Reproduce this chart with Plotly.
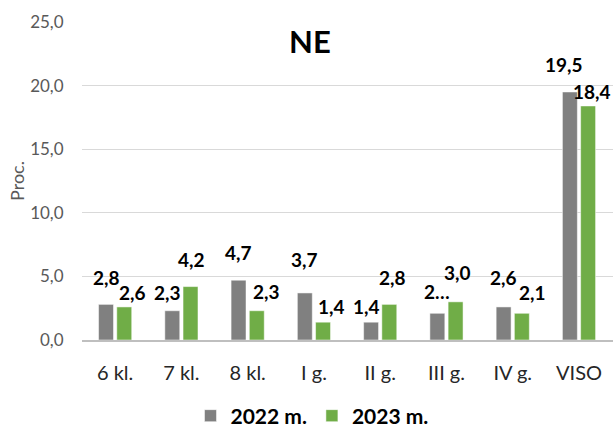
import plotly.graph_objects as go

# duomenys
categories = ["6 kl.", "7 kl.", "8 kl.", "I g.", "II g.", "III g.", "IV g.", "VISO"]
values_2022 = [2.8, 2.3, 4.7, 3.7, 1.4, 2.1, 2.6, 19.5]
values_2023 = [2.6, 4.2, 2.3, 1.4, 2.8, 3.0, 2.1, 18.4]
# Excel sutrumpino vieną etiketę
labels_2022 = ["2,8", "2,3", "4,7", "3,7", "1,4", "2…", "2,6", "19,5"]
labels_2023 = ["2,6", "4,2", "2,3", "1,4", "2,8", "3,0", "2,1", "18,4"]
y_ticks = [0, 5, 10, 15, 20, 25]

# etikečių poslinkiai (px), kad nesikirstų kaip Excel'yje
shift_2022 = [(-9, 13), (-14, 5), (-9, 14), (-9, 20), (-14, 2), (-9, 8), (-9, 16), (-15, 14)]
shift_2023 = [(17, 1), (10, 14), (19, 6), (18, 2), (12, 13), (11, 16), (20, 7), (13, 1)]

FONT = "Lato"
GRAY = "#808080"
GREEN = "#70AD47"

fig = go.Figure()
fig.add_trace(go.Bar(x=categories, y=values_2022, name="2022 m.",
                     marker=dict(color=GRAY, line=dict(color="white", width=0.5))))
fig.add_trace(go.Bar(x=categories, y=values_2023, name="2023 m.",
                     marker=dict(color=GREEN, line=dict(color="white", width=0.5))))

annotations = []
for cat, val, txt, (dx, dy) in zip(categories, values_2022, labels_2022, shift_2022):
    annotations.append(dict(x=cat, y=val, text=txt, showarrow=False, xanchor="center",
                            yanchor="bottom", xshift=dx, yshift=dy,
                            font=dict(family=FONT, size=19, color="black", weight="bold")))
for cat, val, txt, (dx, dy) in zip(categories, values_2023, labels_2023, shift_2023):
    annotations.append(dict(x=cat, y=val, text=txt, showarrow=False, xanchor="center",
                            yanchor="bottom", xshift=dx, yshift=dy,
                            font=dict(family=FONT, size=19, color="black", weight="bold")))
annotations.append(dict(x=0.429, y=0.94, xref="paper", yref="paper", text="NE", showarrow=False,
                        xanchor="center", yanchor="middle",
                        font=dict(family=FONT, size=31, color="black", weight="bold")))

fig.update_layout(
    width=613, height=428,
    margin=dict(l=82, r=0, t=22, b=88),
    paper_bgcolor="white", plot_bgcolor="white",
    separators=", ",
    barmode="group", bargap=0.45, bargroupgap=0.18,
    font=dict(family=FONT, size=16, color="#595959"),
    showlegend=True,
    legend=dict(orientation="h", x=312 / 613, xref="container", y=12 / 428, yref="container",
                xanchor="center", yanchor="middle",
                font=dict(family=FONT, size=21, color="black", weight="bold"),
                itemwidth=30, traceorder="normal"),
    annotations=annotations,
)
fig.update_yaxes(range=[0, 25], tickvals=y_ticks, tickformat=".1f", automargin=False,
                 showgrid=True, gridcolor="#D9D9D9", gridwidth=1, zeroline=False,
                 ticks="outside", ticklen=14, tickcolor="rgba(0,0,0,0)",
                 tickfont=dict(size=17, color="#595959"),
                 title=dict(text="Proc.", font=dict(size=18, color="#595959"), standoff=0))
fig.update_xaxes(showline=True, linecolor="#BFBFBF", linewidth=1.5, automargin=False,
                 ticks="outside", ticklen=14, tickcolor="rgba(0,0,0,0)",
                 tickfont=dict(size=20, color="#262626"))

# naršyklės body turi 8px paraštę – nuimam, kad figūra tilptų į langą
fig.write_html("out.html", config={"displayModeBar": False},
               post_script="document.body.style.margin='0';")
